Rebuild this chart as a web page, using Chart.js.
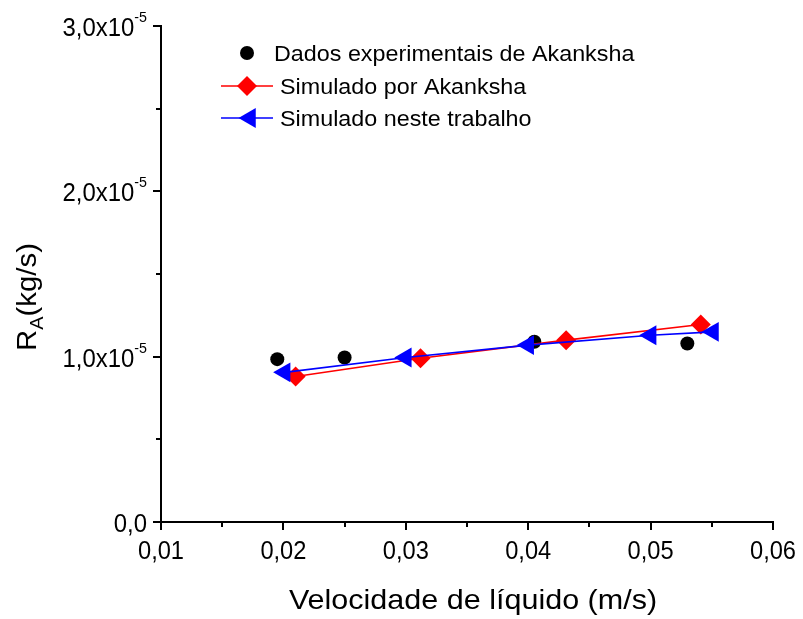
<!DOCTYPE html>
<html>
<head>
<meta charset="utf-8">
<script src="https://cdn.jsdelivr.net/npm/chart.js@4/dist/chart.umd.min.js"></script>
<style>
    body { margin: 0; background: #fff; }
    #wrap { width: 803px; height: 619px; position: relative; }
</style>
</head>
<body>
<div id="wrap"><canvas id="myChart" width="803" height="619"></canvas></div>
<script>
// Dados experimentais de Akanksha
const expX = [0.0195, 0.0250, 0.0405, 0.0530]
const expY = [0.985e-5, 0.995e-5, 1.09e-5, 1.08e-5]
// Simulado por Akanksha
const akX = [0.0210, 0.0312, 0.0431, 0.0541]
const akY = [0.88e-5, 0.99e-5, 1.10e-5, 1.195e-5]
// Simulado neste trabalho
const simX = [0.0201, 0.0300, 0.0400, 0.0500, 0.0551]
const simY = [0.905e-5, 0.995e-5, 1.07e-5, 1.13e-5, 1.15e-5]

const seriesNames = ['Dados experimentais de Akanksha', 'Simulado por Akanksha', 'Simulado neste trabalho']

const xTicks = [0.01, 0.02, 0.03, 0.04, 0.05, 0.06]
const xTickLabels = ['0,01', '0,02', '0,03', '0,04', '0,05', '0,06']
const xMinor = [0.015, 0.025, 0.035, 0.045, 0.055]
const yTicks = [0, 1e-5, 2e-5, 3e-5]
const yTickLabels = ['0,0', '1,0x10', '2,0x10', '3,0x10']
const yTickExp = ['', '-5', '-5', '-5']
const yMinor = [0.5e-5, 1.5e-5, 2.5e-5]

const xTitle = 'Velocidade de líquido (m/s)'
const FONT = "'Liberation Sans', Arial, sans-serif"

function toPoints(xs, ys) {
    return xs.map((x, i) => ({ x: x, y: ys[i] }))
}

// text with a horizontal stretch, returns the drawn width
function drawText(ctx, text, x, y, size, align, sx) {
    ctx.font = size + 'px ' + FONT
    let w = ctx.measureText(text).width * sx
    let left = x
    if (align === 'center') left = x - w / 2
    if (align === 'right') left = x - w
    ctx.save()
    ctx.translate(left, y)
    ctx.scale(sx, 1)
    ctx.textAlign = 'left'
    ctx.fillText(text, 0, 0)
    ctx.restore()
    return w
}

function textWidth(ctx, text, size, sx) {
    ctx.font = size + 'px ' + FONT
    return ctx.measureText(text).width * sx
}

// axis ticks, labels, titles and the legend
const decorPlugin = {
    id: 'decor',
    afterDraw(chart) {
        const ctx = chart.ctx
        const xs = chart.scales.x
        const ys = chart.scales.y
        const area = chart.chartArea
        ctx.save()
        ctx.strokeStyle = '#000'
        ctx.lineWidth = 2
        ctx.fillStyle = '#000'

        // x ticks
        xTicks.forEach(v => {
            let px = Math.round(xs.getPixelForValue(v))
            ctx.beginPath(); ctx.moveTo(px, area.bottom); ctx.lineTo(px, area.bottom + 8); ctx.stroke()
        })
        xMinor.forEach(v => {
            let px = Math.round(xs.getPixelForValue(v))
            ctx.beginPath(); ctx.moveTo(px, area.bottom); ctx.lineTo(px, area.bottom + 5); ctx.stroke()
        })
        // y ticks
        yTicks.forEach(v => {
            let py = Math.round(ys.getPixelForValue(v))
            ctx.beginPath(); ctx.moveTo(area.left, py); ctx.lineTo(area.left - 8, py); ctx.stroke()
        })
        yMinor.forEach(v => {
            let py = Math.round(ys.getPixelForValue(v))
            ctx.beginPath(); ctx.moveTo(area.left, py); ctx.lineTo(area.left - 5, py); ctx.stroke()
        })

        ctx.textBaseline = 'alphabetic'

        // x tick labels
        xTicks.forEach((v, i) => {
            drawText(ctx, xTickLabels[i], xs.getPixelForValue(v), area.bottom + 37, 26, 'center', 0.91)
        })

        // y tick labels with superscript exponent
        const rightEdge = area.left - 14
        yTicks.forEach((v, i) => {
            let py = ys.getPixelForValue(v)
            let ew = 0
            if (yTickExp[i]) ew = drawText(ctx, yTickExp[i], rightEdge, py - 4, 15, 'right', 0.95)
            drawText(ctx, yTickLabels[i], rightEdge - ew, py + 10, 26, 'right', 0.92)
        })

        // x title
        drawText(ctx, xTitle, (area.left + area.right) / 2 + 6, 609, 28, 'center', 1.09)

        // y title: R_A(kg/s)
        ctx.save()
        ctx.translate(36, 297)
        ctx.rotate(-Math.PI / 2)
        let rW = textWidth(ctx, 'R', 28, 1.05)
        let aW = textWidth(ctx, 'A', 19, 1.05)
        let restW = textWidth(ctx, '(kg/s)', 28, 1.05)
        let start = -(rW + aW + restW) / 2
        drawText(ctx, 'R', start, 0, 28, 'left', 1.05)
        drawText(ctx, 'A', start + rW, 7, 19, 'left', 1.05)
        drawText(ctx, '(kg/s)', start + rW + aW, 0, 28, 'left', 1.05)
        ctx.restore()

        // legend
        const rows = [53, 86, 118]
        chart.data.datasets.forEach((ds, i) => {
            let y = rows[i]
            if (ds.showLine) {
                ctx.strokeStyle = ds.borderColor
                ctx.lineWidth = ds.borderWidth
                ctx.beginPath(); ctx.moveTo(221, y); ctx.lineTo(273, y); ctx.stroke()
            }
            ctx.fillStyle = ds.pointBackgroundColor
            Chart.helpers.drawPoint(ctx, {
                pointStyle: ds.pointStyle,
                radius: ds.pointRadius,
                rotation: ds.pointRotation || 0,
                borderWidth: 0
            }, ds.pointStyle === 'triangle' ? 250 : 247, y)
            ctx.fillStyle = '#000'
            drawText(ctx, seriesNames[i], i === 0 ? 274 : 280, y + 8, 22, 'left', 1.06)
        })
        ctx.restore()
    }
}

new Chart(document.getElementById('myChart'), {
    type: 'scatter',
    data: {
        datasets: [{
            label: seriesNames[0],
            data: toPoints(expX, expY),
            showLine: false,
            pointStyle: 'circle',
            pointRadius: 7,
            pointBackgroundColor: '#000',
            pointBorderWidth: 0,
            borderColor: '#000',
            order: 2
        }, {
            label: seriesNames[1],
            data: toPoints(akX, akY),
            showLine: true,
            borderColor: '#ff0000',
            borderWidth: 1.6,
            pointStyle: 'rectRot',
            pointRadius: 10,
            pointBackgroundColor: '#ff0000',
            pointBorderWidth: 0,
            order: 1
        }, {
            label: seriesNames[2],
            data: toPoints(simX, simY),
            showLine: true,
            borderColor: '#0000ff',
            borderWidth: 1.6,
            pointStyle: 'triangle',
            pointRotation: -90,
            pointRadius: 11.5,
            pointBackgroundColor: '#0000ff',
            pointBorderWidth: 0,
            order: 0
        }]
    },
    options: {
        responsive: false,
        animation: false,
        layout: { padding: { left: 0, top: 26, right: 30, bottom: 0 } },
        plugins: {
            legend: { display: false },
            tooltip: { enabled: false }
        },
        scales: {
            x: {
                type: 'linear',
                min: 0.01,
                max: 0.06,
                grid: { display: false },
                ticks: { display: false },
                border: { display: true, color: '#000', width: 2 },
                afterFit: function (scale) { scale.height = 97 }
            },
            y: {
                type: 'linear',
                min: 0,
                max: 3e-5,
                grid: { display: false },
                ticks: { display: false },
                border: { display: true, color: '#000', width: 2 },
                afterFit: function (scale) { scale.width = 161 }
            }
        }
    },
    plugins: [decorPlugin]
})
</script>
</body>
</html>
